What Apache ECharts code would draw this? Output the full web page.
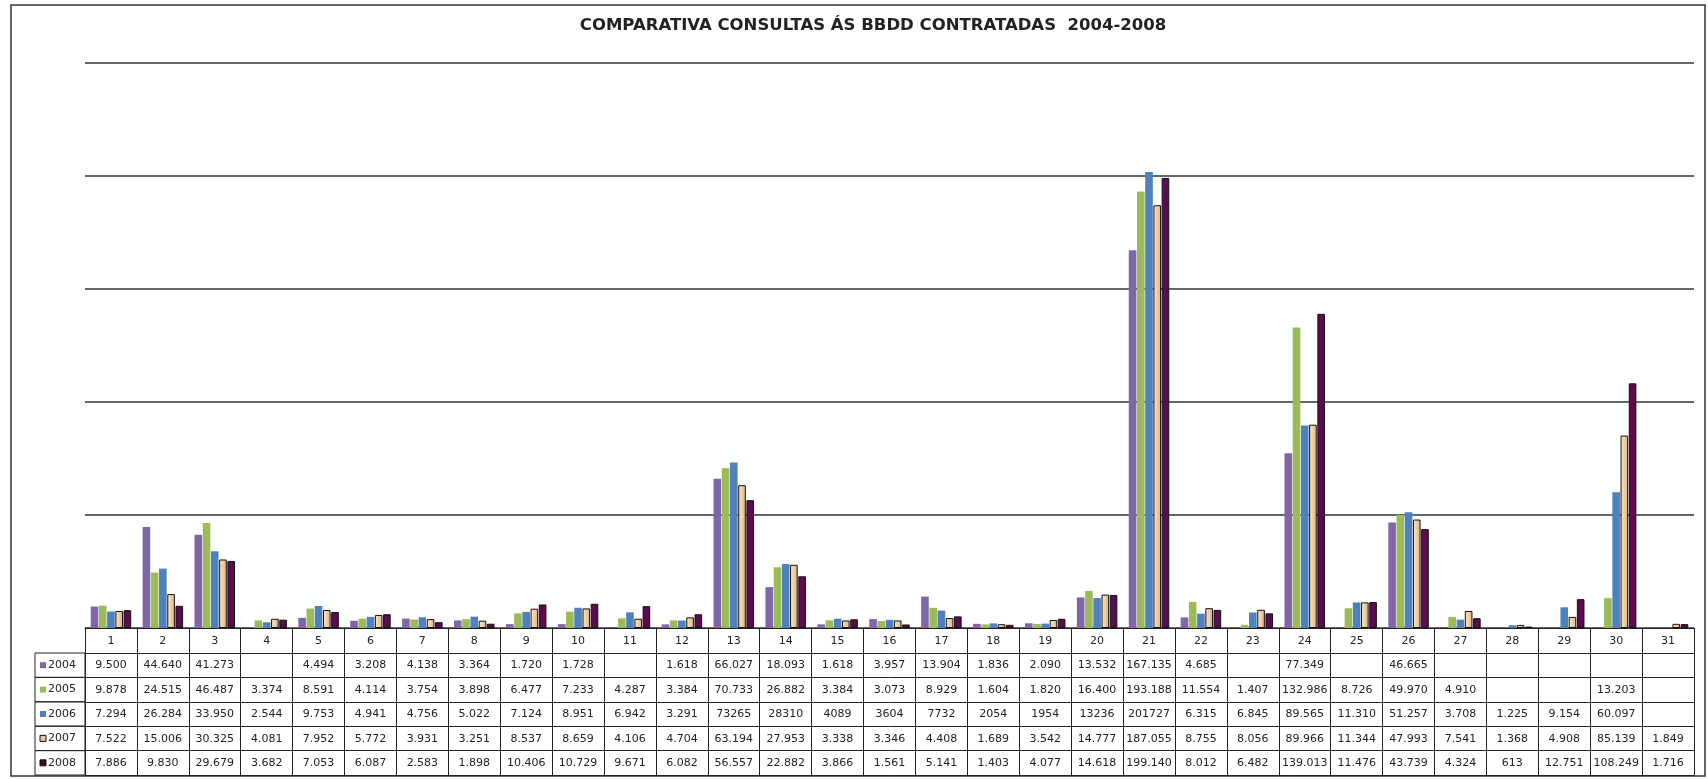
<!DOCTYPE html>
<html>
<head>
<meta charset="utf-8">
<title>Comparativa consultas</title>
<script src="https://cdn.jsdelivr.net/npm/echarts@6/dist/echarts.min.js"></script>
<style>
  html, body { margin: 0; padding: 0; background: #fff; }
  #main { width: 1708px; height: 779px; }
</style>
</head>
<body>
<div id="main"></div>
<script>
var days = ['1', '2', '3', '4', '5', '6', '7', '8', '9', '10', '11', '12', '13', '14', '15', '16',
  '17', '18', '19', '20', '21', '22', '23', '24', '25', '26', '27', '28', '29', '30', '31'];

var years = ['2004', '2005', '2006', '2007', '2008'];

var v2004 = [9500, 44640, 41273, null, 4494, 3208, 4138, 3364, 1720, 1728, null, 1618, 66027, 18093, 1618, 3957,
  13904, 1836, 2090, 13532, 167135, 4685, null, 77349, null, 46665, null, null, null, null, null];
var v2005 = [9878, 24515, 46487, 3374, 8591, 4114, 3754, 3898, 6477, 7233, 4287, 3384, 70733, 26882, 3384, 3073,
  8929, 1604, 1820, 16400, 193188, 11554, 1407, 132986, 8726, 49970, 4910, null, null, 13203, null];
var v2006 = [7294, 26284, 33950, 2544, 9753, 4941, 4756, 5022, 7124, 8951, 6942, 3291, 73265, 28310, 4089, 3604,
  7732, 2054, 1954, 13236, 201727, 6315, 6845, 89565, 11310, 51257, 3708, 1225, 9154, 60097, null];
var v2007 = [7522, 15006, 30325, 4081, 7952, 5772, 3931, 3251, 8537, 8659, 4106, 4704, 63194, 27953, 3338, 3346,
  4408, 1689, 3542, 14777, 187055, 8755, 8056, 89966, 11344, 47993, 7541, 1368, 4908, 85139, 1849];
var v2008 = [7886, 9830, 29679, 3682, 7053, 6087, 2583, 1898, 10406, 10729, 9671, 6082, 56557, 22882, 3866, 1561,
  5141, 1403, 4077, 14618, 199140, 8012, 6482, 139013, 11476, 43739, 4324, 613, 12751, 108249, 1716];

// in the source table these 2006 cells are printed without the thousands dot
var plain2006 = ['13', '14', '15', '16', '17', '18', '19', '20', '21'];

var yTicks = [0, 50000, 100000, 150000, 200000, 250000];

var seriesValues = [v2004, v2005, v2006, v2007, v2008];

var FONT = 'DejaVu Sans';
var GRID_LEFT = 85, GRID_RIGHT = 14, GRID_TOP = 63, GRID_BOTTOM = 151;
var HEAD_H = 25, ROW_H = 24.4;
var BASE_Y = 779 - GRID_BOTTOM;

var colors = [
  '#8066a6',
  '#9bbb59',
  '#4f81bd',
  new echarts.graphic.LinearGradient(0, 0, 1, 0, [
    { offset: 0, color: '#fde8c8' },
    { offset: 1, color: '#e0b284' }
  ]),
  '#5c0c4e'
];
var keyColors = ['#8066a6', '#9bbb59', '#4f81bd', '#e9c6a0', '#3a0a30'];

function fmt(v, plain) {
  if (v == null) return '';
  var s = String(v);
  if (plain) return s;
  return s.replace(/\B(?=(\d{3})+(?!\d))/g, '.');
}

var chart = echarts.init(document.getElementById('main'));

var xAxes = [{
  type: 'category',
  data: days,
  gridIndex: 0,
  position: 'bottom',
  offset: 0,
  axisLine: { onZero: false, lineStyle: { color: '#222', width: 1 } },
  axisTick: { show: true, interval: 0, length: HEAD_H, lineStyle: { color: '#222', width: 1 } },
  axisLabel: { interval: 0, margin: 8, fontSize: 11, color: '#222', fontFamily: FONT }
}];

years.forEach(function (y, i) {
  var vals = seriesValues[i];
  xAxes.push({
    type: 'category',
    data: days,
    gridIndex: 0,
    position: 'bottom',
    offset: HEAD_H + ROW_H * i,
    axisLine: { onZero: false, lineStyle: { color: '#222', width: 1 } },
    axisTick: { show: true, interval: 0, length: ROW_H, lineStyle: { color: '#222', width: 1 } },
    axisLabel: {
      interval: 0, margin: 7, fontSize: 11, color: '#222', fontFamily: FONT,
      formatter: function (d, idx) {
        return fmt(vals[idx], y === '2006' && plain2006.indexOf(d) >= 0);
      }
    }
  });
});

// bottom border of the table
xAxes.push({
  type: 'category',
  data: days,
  gridIndex: 0,
  position: 'bottom',
  offset: HEAD_H + ROW_H * years.length,
  axisLine: { onZero: false, lineStyle: { color: '#222', width: 1 } },
  axisTick: { show: false },
  axisLabel: { show: false }
});

var series = years.map(function (y, i) {
  var s = {
    name: y,
    type: 'bar',
    xAxisIndex: 0,
    data: seriesValues[i],
    barGap: '8%',
    barCategoryGap: '22%',
    itemStyle: { color: colors[i] }
  };
  if (i >= 3) {
    s.itemStyle.borderColor = '#111';
    s.itemStyle.borderWidth = 1;
  }
  return s;
});

// year column of the data table
var yearCells = [];
years.forEach(function (y, i) {
  var top = BASE_Y + HEAD_H + ROW_H * i;
  yearCells.push({
    type: 'rect',
    shape: { x: 35, y: top, width: GRID_LEFT - 35, height: ROW_H },
    style: { fill: 'none', stroke: '#222', lineWidth: 1 }
  });
  yearCells.push({
    type: 'rect',
    shape: { x: 40, y: top + ROW_H / 2 - 3, width: 6, height: 6 },
    style: { fill: keyColors[i], stroke: i >= 3 ? '#111' : null, lineWidth: 1 }
  });
  yearCells.push({
    type: 'text',
    x: 48,
    y: top + ROW_H / 2,
    style: { text: y, fontSize: 11, fontFamily: FONT, fill: '#222', verticalAlign: 'middle' }
  });
});

var option = {
  animation: false,
  backgroundColor: '#fff',
  title: {
    text: 'COMPARATIVA CONSULTAS ÁS BBDD CONTRATADAS  2004-2008',
    left: 868,
    top: 12,
    textAlign: 'center',
    textStyle: { fontFamily: FONT, fontSize: 16.5, fontWeight: 'bold', color: '#222' }
  },
  tooltip: { show: false },
  legend: { show: false },
  grid: { left: GRID_LEFT, right: GRID_RIGHT, top: GRID_TOP, bottom: GRID_BOTTOM, containLabel: false },
  xAxis: xAxes,
  yAxis: {
    type: 'value',
    min: yTicks[0],
    max: yTicks[yTicks.length - 1],
    interval: yTicks[1] - yTicks[0],
    axisLabel: { show: false },
    axisLine: { show: false },
    axisTick: { show: false },
    splitLine: { lineStyle: { color: '#333', width: 1.5 } }
  },
  graphic: [{
    type: 'rect',
    shape: { x: 11, y: 5, width: 1694, height: 771 },
    style: { fill: 'none', stroke: '#333', lineWidth: 1.5 },
    silent: true
  }].concat(yearCells),
  series: series
};

chart.setOption(option);
</script>
</body>
</html>
